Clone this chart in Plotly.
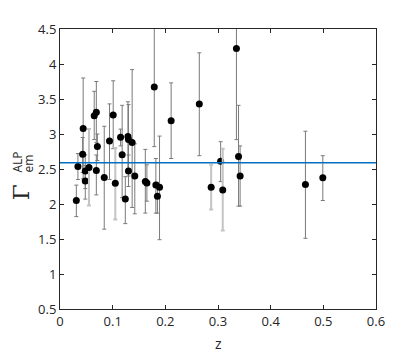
import plotly.graph_objects as go

z = [0.031, 0.034, 0.044, 0.043, 0.048, 0.048, 0.055, 0.065, 0.069, 0.071,
     0.069, 0.084, 0.094, 0.101, 0.105, 0.115, 0.118, 0.124, 0.129, 0.130,
     0.130, 0.137, 0.142, 0.162, 0.165, 0.179, 0.182, 0.185, 0.189, 0.211,
     0.2645, 0.287, 0.305, 0.309, 0.335, 0.339, 0.342, 0.466, 0.499]
gamma = [2.05, 2.535, 3.08, 2.71, 2.47, 2.33, 2.52, 3.26, 3.31, 2.82,
         2.48, 2.38, 2.90, 3.27, 2.295, 2.955, 2.705, 2.07, 2.965, 2.92,
         2.47, 2.88, 2.40, 2.32, 2.30, 3.67, 2.27, 2.11, 2.24, 3.19,
         3.43, 2.24, 2.61, 2.20, 4.22, 2.68, 2.40, 2.277, 2.375]
upper = [2.27, 2.72, 3.80, 2.95, 2.70, 2.55, 3.07, 3.61, 3.75, 3.00,
         2.70, 3.11, 3.43, 3.76, 2.80, 3.07, 3.41, 2.39, 3.46, 3.42,
         2.70, 3.92, 2.86, 2.78, 2.56, 4.80, 2.65, 2.31, 2.97, 3.73,
         4.16, 2.56, 2.89, 2.79, 4.80, 3.41, 2.83, 3.04, 2.69]
lower = [1.82, 2.35, 2.36, 2.45, 2.22, 2.07, 1.98, 2.92, 2.88, 2.62,
         2.13, 1.64, 2.35, 2.79, 1.78, 2.83, 2.09, 1.72, 2.45, 2.40,
         2.25, 1.95, 1.86, 1.87, 2.04, 2.82, 1.87, 1.87, 1.49, 2.65,
         2.69, 1.92, 2.32, 1.62, 2.92, 1.97, 1.97, 1.51, 2.05]
light = [0, 0, 0, 0, 0, 0, 1, 0, 0, 0,
         0, 0, 0, 0, 1, 0, 0, 0, 0, 0,
         0, 0, 0, 0, 0, 0, 0, 0, 0, 0,
         0, 1, 0, 1, 0, 0, 0, 0, 0]
mean_gamma = 2.59
x_range = [0, 0.6]
y_range = [0.5, 4.5]
x_ticks = [0, 0.1, 0.2, 0.3, 0.4, 0.5, 0.6]
x_ticktext = ["0", "0.1", "0.2", "0.3", "0.4", "0.5", "0.6"]
y_ticks = [0.5, 1, 1.5, 2, 2.5, 3, 3.5, 4, 4.5]
y_ticktext = ["0.5", "1", "1.5", "2", "2.5", "3", "3.5", "4", "4.5"]

fig = go.Figure()

for flag, col, w in [(0, "#7a7a7a", 1), (1, "#c4c4c4", 2)]:
    idx = [i for i in range(len(z)) if light[i] == flag]
    fig.add_trace(go.Scatter(
        x=[z[i] for i in idx], y=[gamma[i] for i in idx], mode="markers",
        marker=dict(size=7, color="black"),
        error_y=dict(type="data", symmetric=False,
                     array=[upper[i] - gamma[i] for i in idx],
                     arrayminus=[gamma[i] - lower[i] for i in idx],
                     color=col, thickness=w, width=2),
        showlegend=False))

fig.add_trace(go.Scatter(x=x_range, y=[mean_gamma, mean_gamma], mode="lines",
                         line=dict(color="#0072BD", width=1.5), showlegend=False))

axis_common = dict(showgrid=False, zeroline=False, showline=True, mirror="allticks",
                   linecolor="#262626", linewidth=1, ticks="inside", ticklen=4,
                   tickcolor="#262626",
                   tickfont=dict(family="Open Sans", size=13, color="#262626"))

fig.update_xaxes(range=x_range, tickvals=x_ticks, ticktext=x_ticktext, **axis_common)
fig.update_yaxes(range=y_range, tickvals=y_ticks, ticktext=y_ticktext, **axis_common)

# page is rendered with an 8px body margin; positions below are page pixels
OFF = 8
L, R, T, B = 60, 376, 26, 309

def px2paper(px):
    return (px - L) / (R - L)

def py2paper(py):
    return (B - py) / (B - T)

def label(text, px, py, size, family):
    return dict(text=text, xref="paper", yref="paper", x=px2paper(px), y=py2paper(py),
                xanchor="center", yanchor="middle", showarrow=False,
                font=dict(family=family, size=size, color="#262626"))

fig.add_annotation(**label("z", 218, 344, 14, "Open Sans"))
fig.add_annotation(textangle=-90, **label("Γ", 21, 191, 23, "DejaVu Serif"))
fig.add_annotation(textangle=-90, **label("ALP", 18, 161, 12, "Open Sans"))
fig.add_annotation(textangle=-90, **label("em", 29, 162, 12, "Open Sans"))

W, H = 415, 354
fig.update_layout(width=W, height=H, plot_bgcolor="white", paper_bgcolor="white",
                  margin=dict(l=L - OFF, r=W - (R - OFF), t=T - OFF, b=H - (B - OFF)))

fig.write_html("out.html")
